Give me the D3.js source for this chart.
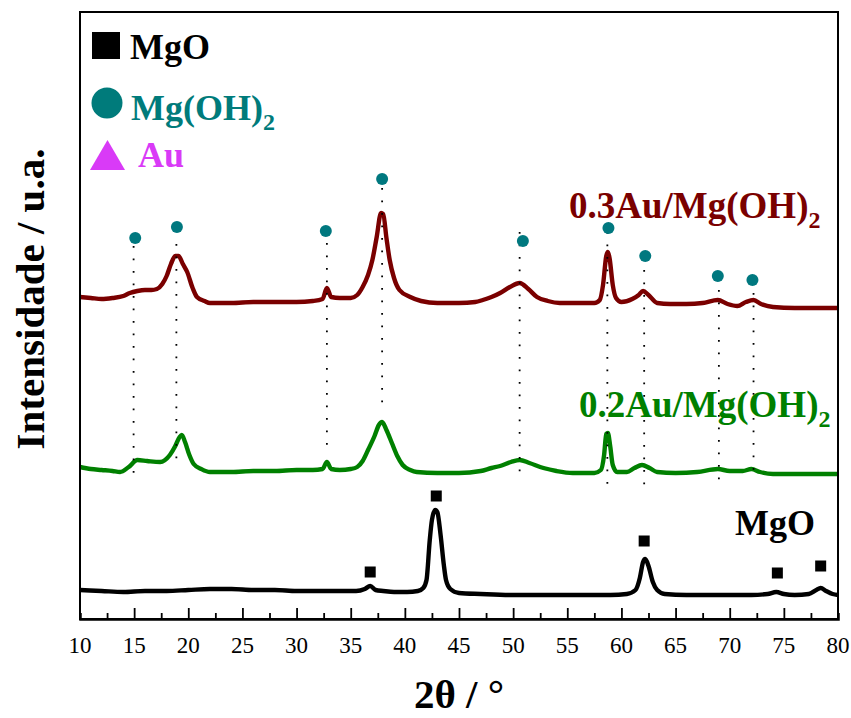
<!DOCTYPE html>
<html>
<head>
<meta charset="utf-8">
<script src="https://cdn.jsdelivr.net/npm/d3@7/dist/d3.min.js"></script>
<style>
  body { margin: 0; background: #fff; }
</style>
</head>
<body>
<div id="graph"></div>
<script>
// XRD patterns, intensity already stacked with offsets (a.u.)
var theta03 = [10,11,12,13,14,14.6,15.3,16,16.6,17.1,17.6,18,18.4,18.8,19.1,19.5,19.9,20.4,20.8,21.5,22,24,26,28,30,31.5,32.4,32.8,33.2,34,35,35.6,36.1,36.6,37,37.4,37.8,38,38.3,38.6,39,39.5,40.5,41.5,43,45,46.5,47.2,48,48.8,49.7,50.6,51.4,52.2,53.2,54.3,56,57.5,58,58.3,58.6,58.75,58.9,59.2,59.5,60,61,61.6,62,62.5,63.3,64.5,66,67.5,68.9,69.8,70.7,71.5,72.2,72.9,74,76,78,80];
var int03 = [322,321,320,321,323,326,328,329,329,330,335,343,355,363,363,355,347,331,322,318,316,316,317,317,317,318,320,331,322,321,321,324,332,344,359,382,406,405,381,359,341,329,322,318,316,316,317,319,322,326,332,336,330,322,318,316,316,316,319,334,363,367,361,334,321,317,320,324,328,324,316,315,315,316,319,315,313,317,319,315,312,311,311,311];

var theta02 = [10,11,12,13,13.7,14.5,15.3,16.2,17.4,18.3,18.8,19.2,19.4,19.7,20.1,20.5,21.2,22,24,26,28,30,31.5,32.4,32.8,33.2,34,35,35.6,36.1,36.6,37.2,37.6,37.9,38.3,38.8,39.3,39.8,40.5,41.1,43,45,47,48,48.8,49.8,50.6,51.5,52.8,54,55.5,57.5,58.1,58.4,58.6,58.75,58.95,59.2,59.6,60.5,61.2,61.9,62.6,63.3,65,67,68.9,70,71.2,72,72.8,74,76,78,80];
var int02 = [152,150,149,148,147,152,159,158,157,164,173,182,184,177,164,155,150,147,147,148,148,149,149,150,157,150,149,150,152,158,169,183,194,197,189,176,163,154,149,147,146,146,148,151,153,157,159,156,151,148,146,146,149,164,185,186,174,154,147,147,151,154,151,147,146,147,150,148,148,150,147,145,145,145,145];

var thetaMgO = [10,12,14,16,18,20,22,24,26,28,30,32,34,35.5,36.3,36.8,37.3,38,39,40.2,41.2,41.7,42,42.3,42.5,42.8,43,43.3,43.6,43.8,44.2,45,47,50,53,56,59,60.5,61.3,61.7,62,62.2,62.5,62.9,63.3,64,66,68,70,72,73.5,74.3,75,76,77.3,78,78.4,78.9,79.5,80];
var intMgO = [29,28,27,28,28,29,30,30,29,29,28,28,28,28,30,33,29,28,27,27,28,31,39,79,99,109,107,84,54,39,30,26,25,24,24,24,24,25,29,41,57,60,53,37,29,25,24,24,24,24,25,27,25,24,25,29,31,28,25,24];

// phase markers
var squareTheta = [36.8, 42.9, 62.1, 74.4, 78.4];
var squareInt = [47, 123, 78, 46, 53];
var circleTheta = [15.1, 18.95, 32.7, 37.9, 50.9, 58.8, 62.2, 68.9, 72.1];
var circleInt = [381, 392, 388, 440, 378, 391, 363, 343, 339];

// dotted guide lines
var dropTheta = [14.95, 18.9, 32.8, 37.9, 50.6, 58.7, 62.1, 69.0, 72.2];
var dropTop = [373, 375, 376, 431, 387, 387, 349, 329, 326];
var dropBottom = [146, 159, 164, 206, 147, 129, 129, 136, 144];

var xTickLabels = [10,15,20,25,30,35,40,45,50,55,60,65,70,75,80];

var legendNames = ["MgO", "Mg(OH)", "Au"];
var legendSubs = ["", "2", ""];
var legendColors = ["#000000", "#007b7b", "#d93af7"];

var seriesNames = ["0.3Au/Mg(OH)", "0.2Au/Mg(OH)", "MgO"];
var seriesSubs = ["2", "2", ""];
var seriesColors = ["#7a0000", "#008000", "#000000"];

var width = 851, height = 718;
var margin = {left: 80, right: 13, top: 12, bottom: 99};
var serif = 'Liberation Serif';

var svg = d3.select('#graph').append('svg')
    .attr('width', width).attr('height', height)
    .style('background', '#fff');

var xScale = d3.scaleLinear().domain([10, 80]).range([margin.left, width - margin.right]);
var yScale = d3.scaleLinear().domain([0, 607]).range([height - margin.bottom, margin.top]);

var line = d3.line()
    .x(function(d) { return xScale(d[0]); })
    .y(function(d) { return yScale(d[1]); })
    .curve(d3.curveMonotoneX);

function pairs(xs, ys) {
    return xs.map(function(x, i) { return [x, ys[i]]; });
}

var curves = [pairs(theta03, int03), pairs(theta02, int02), pairs(thetaMgO, intMgO)];

svg.append('g').selectAll('path')
    .data(curves).enter().append('path')
    .attr('d', line)
    .attr('fill', 'none')
    .attr('stroke', function(d, i) { return seriesColors[i]; })
    .attr('stroke-width', 4.4)
    .attr('stroke-linejoin', 'round');

// dotted guides
svg.append('g').selectAll('line')
    .data(dropTheta).enter().append('line')
    .attr('x1', function(d) { return xScale(d); })
    .attr('x2', function(d) { return xScale(d); })
    .attr('y1', function(d, i) { return yScale(dropTop[i]); })
    .attr('y2', function(d, i) { return yScale(dropBottom[i]); })
    .attr('stroke', '#000')
    .attr('stroke-width', 1.8)
    .attr('stroke-dasharray', '1.8,10.7');

// markers
svg.append('g').selectAll('rect')
    .data(squareTheta).enter().append('rect')
    .attr('x', function(d) { return xScale(d) - 5.5; })
    .attr('y', function(d, i) { return yScale(squareInt[i]) - 5.5; })
    .attr('width', 11).attr('height', 11)
    .attr('fill', '#000');

svg.append('g').selectAll('circle')
    .data(circleTheta).enter().append('circle')
    .attr('cx', function(d) { return xScale(d); })
    .attr('cy', function(d, i) { return yScale(circleInt[i]); })
    .attr('r', 6)
    .attr('fill', '#00787f');

// frame
svg.append('rect')
    .attr('x', margin.left).attr('y', margin.top)
    .attr('width', width - margin.left - margin.right)
    .attr('height', height - margin.top - margin.bottom)
    .attr('fill', 'none').attr('stroke', '#000').attr('stroke-width', 2);

// x axis: ticks inward, every 2.5
var xAxis = d3.axisBottom(xScale)
    .tickValues(d3.range(12.5, 80, 2.5))
    .tickSize(-6)
    .tickFormat('');
var gx = svg.append('g')
    .attr('transform', 'translate(0,' + (height - margin.bottom) + ')')
    .call(xAxis);
gx.select('.domain').attr('stroke-width', 2.5);
gx.selectAll('.tick line')
    .attr('stroke-width', 1.8)
    .attr('y2', function(d) { return d % 5 === 0 ? -11 : -6; });

svg.append('g').selectAll('text')
    .data(xTickLabels).enter().append('text')
    .attr('x', function(d) { return xScale(d); })
    .attr('y', 653)
    .attr('text-anchor', 'middle')
    .attr('font-family', serif)
    .attr('font-size', 23)
    .attr('fill', '#000')
    .text(function(d) { return d; });

// axis titles
svg.append('text')
    .attr('x', xScale(45)).attr('y', 708)
    .attr('text-anchor', 'middle')
    .attr('font-family', serif)
    .attr('font-size', 41).attr('font-weight', 'bold')
    .text('2θ / °');

svg.append('text')
    .attr('transform', 'translate(44,299) rotate(-90)')
    .attr('text-anchor', 'middle')
    .attr('font-family', serif)
    .attr('font-size', 41).attr('font-weight', 'bold')
    .text('Intensidade / u.a.');

// legend
var legendY = [59, 120, 167];
var legendX = [130, 131, 138];
var legend = svg.append('g');
legend.append('rect').attr('x', 92).attr('y', 32).attr('width', 28).attr('height', 27).attr('fill', legendColors[0]);
legend.append('circle').attr('cx', 107).attr('cy', 103).attr('r', 15.5).attr('fill', legendColors[1]);
legend.append('path').attr('d', 'M90,170L125,170L107.5,140Z').attr('fill', legendColors[2]);

legendNames.forEach(function(name, i) {
    var t = legend.append('text')
        .attr('x', legendX[i]).attr('y', legendY[i])
        .attr('font-family', serif)
        .attr('font-size', 36).attr('font-weight', 'bold')
        .attr('fill', legendColors[i])
        .text(name);
    if (legendSubs[i]) {
        t.append('tspan').attr('dy', 10).attr('font-size', 24).text(legendSubs[i]);
    }
});

// series labels
var labelX = [569, 579, 735];
var labelY = [218, 417, 535];
var labelSize = [37, 37, 36];
seriesNames.forEach(function(name, i) {
    var t = svg.append('text')
        .attr('x', labelX[i]).attr('y', labelY[i])
        .attr('font-family', serif)
        .attr('font-size', labelSize[i]).attr('font-weight', 'bold')
        .attr('fill', seriesColors[i])
        .text(name);
    if (seriesSubs[i]) {
        t.append('tspan').attr('dy', 10).attr('font-size', 24).text(seriesSubs[i]);
    }
});
</script>
</body>
</html>
